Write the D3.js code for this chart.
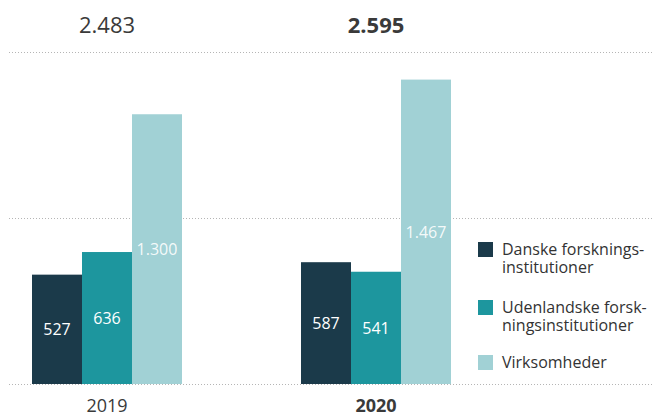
<!DOCTYPE html>
<html><head><meta charset="utf-8">
<script src="https://cdn.jsdelivr.net/npm/d3@7"></script>
<style>
body{margin:0;background:#fff;}
text{font-family:"Open Sans",sans-serif;}
</style></head>
<body><svg id="c" width="652" height="414"></svg>
<script>
const years = ["2019","2020"];
const totals = ["2.483","2.595"];
const seriesNames = ["Danske forsknings-|institutioner","Udenlandske forsk-|ningsinstitutioner","Virksomheder"];
const danske = [527,587];
const udenlandske = [636,541];
const virksomheder = [1300,1467];
const valueLabels = [["527","587"],["636","541"],["1.300","1.467"]];
const gridTicks = [0,800,1600];
const colors = ["#1b3a4a","#1d969e","#a1d1d5"];

const svg = d3.select("#c");
const series = [danske, udenlandske, virksomheder];
const y = d3.scaleLinear().domain([0,1600]).range([384,52]);
const x0 = d3.scaleBand().domain(years).range([32,451]).paddingInner(119/269).paddingOuter(0);
const x1 = d3.scaleBand().domain([0,1,2]).range([0,x0.bandwidth()]);

// grid
svg.append("g").selectAll("line").data(gridTicks).join("line")
  .attr("x1",9).attr("x2",652)
  .attr("y1",d=>y(d)+0.5).attr("y2",d=>y(d)+0.5)
  .attr("stroke","#b5b5b5").attr("stroke-dasharray","1,2");

years.forEach((yr,i)=>{
  const g = svg.append("g").attr("transform",`translate(${x0(yr)},0)`);
  series.forEach((s,k)=>{
    g.append("rect").attr("x",x1(k)).attr("width",x1.bandwidth())
      .attr("y",y(s[i])).attr("height",y(0)-y(s[i])).attr("fill",colors[k]);
    g.append("text").attr("x",x1(k)+x1.bandwidth()/2).attr("y",(y(s[i])+y(0))/2)
      .attr("dy","0.36em").attr("text-anchor","middle").attr("font-size",16)
      .attr("fill","#fff").attr("fill-opacity",k==2?0.9:1).text(valueLabels[k][i]);
  });
  const cx = x0(yr)+x0.bandwidth()/2;
  svg.append("text").attr("x",cx).attr("y",33).attr("text-anchor","middle")
    .attr("font-size",22).attr("fill","#3a3a3a").attr("font-weight",i==1?700:400).text(totals[i]);
  svg.append("text").attr("x",cx).attr("y",412).attr("text-anchor","middle")
    .attr("font-size",18).attr("fill","#3a3a3a").attr("font-weight",i==1?700:400).text(yr);
});

// legend
const legY = [242,300,355];
seriesNames.forEach((n,k)=>{
  svg.append("rect").attr("x",478).attr("y",legY[k]).attr("width",15).attr("height",15).attr("fill",colors[k]);
  const t = svg.append("text").attr("x",502).attr("y",legY[k]+13).attr("font-size",16).attr("fill","#333");
  n.split("|").forEach((line,j)=>{
    t.append("tspan").attr("x",502).attr("dy",j?18:0).text(line);
  });
});
</script></body></html>
